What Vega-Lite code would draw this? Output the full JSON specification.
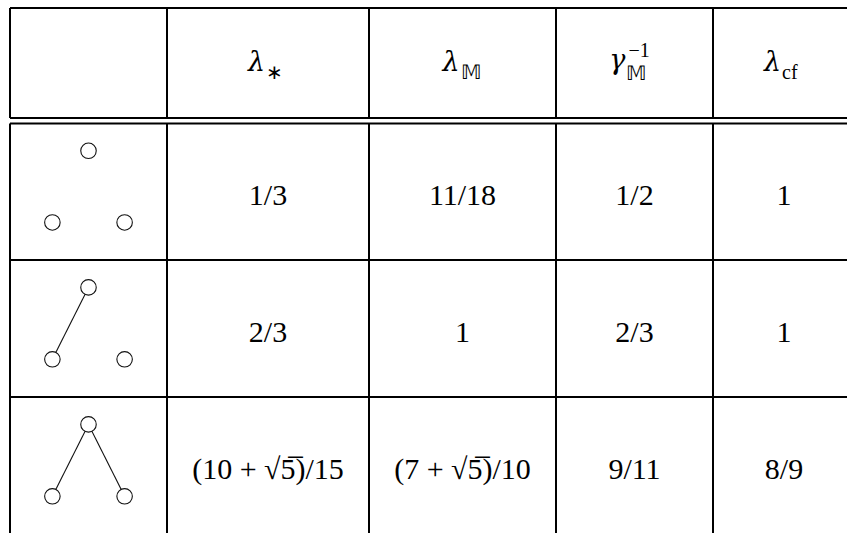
{
  "$schema": "https://vega.github.io/schema/vega-lite/v6.json",
  "width": 847,
  "height": 533,
  "autosize": "none",
  "padding": 0,
  "background": "white",
  "config": {"view": {"stroke": null}},
  "datasets": {
    "hlines": [
      {"y": 0, "x": 0, "x2": 5},
      {"y": 0.96, "x": 0, "x2": 5},
      {"y": 1, "x": 0, "x2": 5},
      {"y": 2, "x": 0, "x2": 5},
      {"y": 3, "x": 0, "x2": 5}
    ],
    "vlines": [
      {"x": 0, "y": 0, "y2": 0.96}, {"x": 0, "y": 1, "y2": 4},
      {"x": 1, "y": 0, "y2": 0.96}, {"x": 1, "y": 1, "y2": 4},
      {"x": 2, "y": 0, "y2": 0.96}, {"x": 2, "y": 1, "y2": 4},
      {"x": 3, "y": 0, "y2": 0.96}, {"x": 3, "y": 1, "y2": 4},
      {"x": 4, "y": 0, "y2": 0.96}, {"x": 4, "y": 1, "y2": 4}
    ],
    "edges": [
      {"x": 0.5, "y": 2.2, "x2": 0.27, "y2": 2.725},
      {"x": 0.5, "y": 3.2, "x2": 0.27, "y2": 3.725},
      {"x": 0.5, "y": 3.2, "x2": 0.73, "y2": 3.725}
    ],
    "nodes": [
      {"x": 0.5, "y": 1.2}, {"x": 0.27, "y": 1.725}, {"x": 0.73, "y": 1.725},
      {"x": 0.5, "y": 2.2}, {"x": 0.27, "y": 2.725}, {"x": 0.73, "y": 2.725},
      {"x": 0.5, "y": 3.2}, {"x": 0.27, "y": 3.725}, {"x": 0.73, "y": 3.725}
    ],
    "header": [
      {"x": 1.5, "y": 0.48, "main": "λ", "sub": "∗", "sup": ""},
      {"x": 2.5, "y": 0.48, "main": "λ", "sub": "𝕄", "sup": ""},
      {"x": 3.5, "y": 0.48, "main": "γ", "sub": "𝕄", "sup": "−1"},
      {"x": 4.5, "y": 0.48, "main": "λ", "sub": "cf", "sup": ""}
    ],
    "cells": [
      {"x": 1.5, "y": 1.5, "v": "1/3"},
      {"x": 2.5, "y": 1.5, "v": "11/18"},
      {"x": 3.5, "y": 1.5, "v": "1/2"},
      {"x": 4.5, "y": 1.5, "v": "1"},
      {"x": 1.5, "y": 2.5, "v": "2/3"},
      {"x": 2.5, "y": 2.5, "v": "1"},
      {"x": 3.5, "y": 2.5, "v": "2/3"},
      {"x": 4.5, "y": 2.5, "v": "1"},
      {"x": 1.5, "y": 3.5, "v": "(10 + √5̅)/15"},
      {"x": 2.5, "y": 3.5, "v": "(7 + √5̅)/10"},
      {"x": 3.5, "y": 3.5, "v": "9/11"},
      {"x": 4.5, "y": 3.5, "v": "8/9"}
    ]
  },
  "layer": [
    {
      "data": {"name": "hlines"},
      "mark": {"type": "rule", "color": "black", "strokeWidth": 2, "clip": true},
      "encoding": {
        "x": {"field": "x", "type": "quantitative", "axis": null, "scale": {"type": "linear", "domain": [0, 1, 2, 3, 4, 5], "range": [10, 167, 369, 556, 713, 855], "zero": false, "nice": false}},
        "x2": {"field": "x2"},
        "y": {"field": "y", "type": "quantitative", "axis": null, "scale": {"type": "linear", "domain": [0, 0.96, 1, 2, 3, 4], "range": [8, 118, 123.5, 260, 397, 534], "zero": false, "nice": false}}
      }
    },
    {
      "data": {"name": "vlines"},
      "mark": {"type": "rule", "color": "black", "strokeWidth": 2, "clip": true},
      "encoding": {
        "x": {"field": "x", "type": "quantitative", "axis": null, "scale": {"type": "linear", "domain": [0, 1, 2, 3, 4, 5], "range": [10, 167, 369, 556, 713, 855], "zero": false, "nice": false}},
        "y": {"field": "y", "type": "quantitative", "axis": null, "scale": {"type": "linear", "domain": [0, 0.96, 1, 2, 3, 4], "range": [8, 118, 123.5, 260, 397, 534], "zero": false, "nice": false}},
        "y2": {"field": "y2"}
      }
    },
    {
      "data": {"name": "edges"},
      "mark": {"type": "rule", "color": "#111", "strokeWidth": 1.1},
      "encoding": {
        "x": {"field": "x", "type": "quantitative", "axis": null, "scale": {"type": "linear", "domain": [0, 1, 2, 3, 4, 5], "range": [10, 167, 369, 556, 713, 855], "zero": false, "nice": false}},
        "x2": {"field": "x2"},
        "y": {"field": "y", "type": "quantitative", "axis": null, "scale": {"type": "linear", "domain": [0, 0.96, 1, 2, 3, 4], "range": [8, 118, 123.5, 260, 397, 534], "zero": false, "nice": false}},
        "y2": {"field": "y2"}
      }
    },
    {
      "data": {"name": "nodes"},
      "mark": {"type": "point", "shape": "circle", "size": 240, "filled": false, "fill": "white", "fillOpacity": 1, "stroke": "#111", "strokeWidth": 1.1, "opacity": 1},
      "encoding": {
        "x": {"field": "x", "type": "quantitative", "axis": null, "scale": {"type": "linear", "domain": [0, 1, 2, 3, 4, 5], "range": [10, 167, 369, 556, 713, 855], "zero": false, "nice": false}},
        "y": {"field": "y", "type": "quantitative", "axis": null, "scale": {"type": "linear", "domain": [0, 0.96, 1, 2, 3, 4], "range": [8, 118, 123.5, 260, 397, 534], "zero": false, "nice": false}}
      }
    },
    {
      "data": {"name": "cells"},
      "mark": {"type": "text", "font": "Liberation Serif", "fontSize": 30, "align": "center", "baseline": "alphabetic", "dy": 13, "color": "black"},
      "encoding": {
        "x": {"field": "x", "type": "quantitative", "axis": null, "scale": {"type": "linear", "domain": [0, 1, 2, 3, 4, 5], "range": [10, 167, 369, 556, 713, 855], "zero": false, "nice": false}},
        "y": {"field": "y", "type": "quantitative", "axis": null, "scale": {"type": "linear", "domain": [0, 0.96, 1, 2, 3, 4], "range": [8, 118, 123.5, 260, 397, 534], "zero": false, "nice": false}},
        "text": {"field": "v"}
      }
    },
    {
      "data": {"name": "header"},
      "transform": [{"filter": "datum.main === 'λ'"}],
      "mark": {"type": "text", "font": "DejaVu Serif", "fontStyle": "italic", "fontSize": 27, "align": "right", "baseline": "alphabetic", "dx": -3, "dy": 8, "color": "black"},
      "encoding": {
        "x": {"field": "x", "type": "quantitative", "axis": null, "scale": {"type": "linear", "domain": [0, 1, 2, 3, 4, 5], "range": [10, 167, 369, 556, 713, 855], "zero": false, "nice": false}},
        "y": {"field": "y", "type": "quantitative", "axis": null, "scale": {"type": "linear", "domain": [0, 0.96, 1, 2, 3, 4], "range": [8, 118, 123.5, 260, 397, 534], "zero": false, "nice": false}},
        "text": {"field": "main"}
      }
    },
    {
      "data": {"name": "header"},
      "transform": [{"filter": "datum.main === 'λ'"}],
      "mark": {"type": "text", "font": "Liberation Serif", "fontSize": 20, "align": "left", "baseline": "alphabetic", "dx": -2, "dy": 16, "color": "black"},
      "encoding": {
        "x": {"field": "x", "type": "quantitative", "axis": null, "scale": {"type": "linear", "domain": [0, 1, 2, 3, 4, 5], "range": [10, 167, 369, 556, 713, 855], "zero": false, "nice": false}},
        "y": {"field": "y", "type": "quantitative", "axis": null, "scale": {"type": "linear", "domain": [0, 0.96, 1, 2, 3, 4], "range": [8, 118, 123.5, 260, 397, 534], "zero": false, "nice": false}},
        "text": {"field": "sub"}
      }
    },
    {
      "data": {"name": "header"},
      "transform": [{"filter": "datum.main === 'γ'"}],
      "mark": {"type": "text", "font": "DejaVu Serif", "fontStyle": "italic", "fontSize": 27, "align": "right", "baseline": "alphabetic", "dx": -9, "dy": 6, "color": "black"},
      "encoding": {
        "x": {"field": "x", "type": "quantitative", "axis": null, "scale": {"type": "linear", "domain": [0, 1, 2, 3, 4, 5], "range": [10, 167, 369, 556, 713, 855], "zero": false, "nice": false}},
        "y": {"field": "y", "type": "quantitative", "axis": null, "scale": {"type": "linear", "domain": [0, 0.96, 1, 2, 3, 4], "range": [8, 118, 123.5, 260, 397, 534], "zero": false, "nice": false}},
        "text": {"field": "main"}
      }
    },
    {
      "data": {"name": "header"},
      "transform": [{"filter": "datum.main === 'γ'"}],
      "mark": {"type": "text", "font": "Liberation Serif", "fontSize": 20, "align": "left", "baseline": "alphabetic", "dx": -9, "dy": 17, "color": "black"},
      "encoding": {
        "x": {"field": "x", "type": "quantitative", "axis": null, "scale": {"type": "linear", "domain": [0, 1, 2, 3, 4, 5], "range": [10, 167, 369, 556, 713, 855], "zero": false, "nice": false}},
        "y": {"field": "y", "type": "quantitative", "axis": null, "scale": {"type": "linear", "domain": [0, 0.96, 1, 2, 3, 4], "range": [8, 118, 123.5, 260, 397, 534], "zero": false, "nice": false}},
        "text": {"field": "sub"}
      }
    },
    {
      "data": {"name": "header"},
      "transform": [{"filter": "datum.main === 'γ'"}],
      "mark": {"type": "text", "font": "Liberation Serif", "fontSize": 20, "align": "left", "baseline": "alphabetic", "dx": -6, "dy": -6, "color": "black"},
      "encoding": {
        "x": {"field": "x", "type": "quantitative", "axis": null, "scale": {"type": "linear", "domain": [0, 1, 2, 3, 4, 5], "range": [10, 167, 369, 556, 713, 855], "zero": false, "nice": false}},
        "y": {"field": "y", "type": "quantitative", "axis": null, "scale": {"type": "linear", "domain": [0, 0.96, 1, 2, 3, 4], "range": [8, 118, 123.5, 260, 397, 534], "zero": false, "nice": false}},
        "text": {"field": "sup"}
      }
    }
  ]
}
